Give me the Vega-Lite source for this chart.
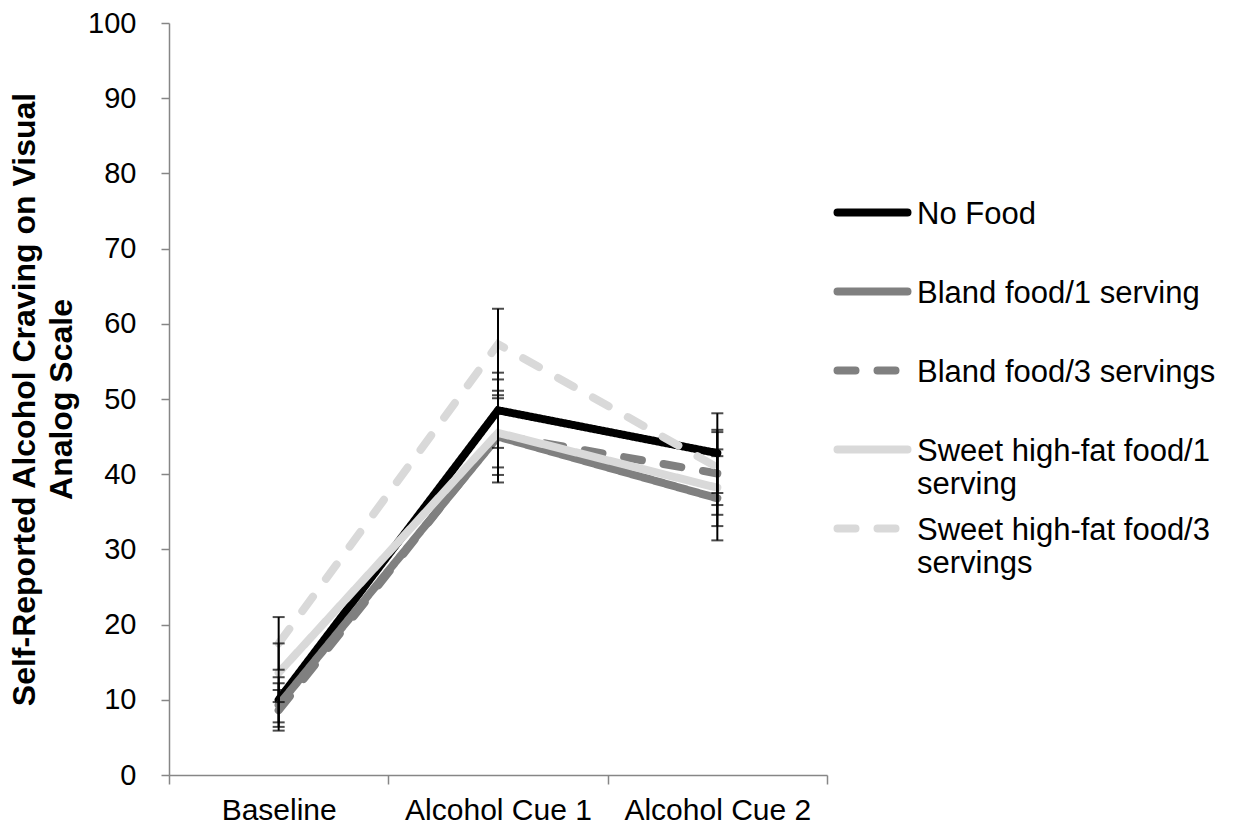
{
  "$schema": "https://vega.github.io/schema/vega-lite/v6.json",
  "autosize": {"type": "none"},
  "padding": {"left": 169, "top": 23, "right": 410, "bottom": 56},
  "width": 658,
  "height": 752,
  "background": "white",
  "config": {
    "view": {"stroke": null},
    "font": "Liberation Sans",
    "axis": {
      "grid": false,
      "domainColor": "#868686",
      "domainWidth": 1.5,
      "tickColor": "#868686",
      "tickWidth": 1.5,
      "labelColor": "#000000",
      "labelFont": "Liberation Sans",
      "labelFontSize": 29,
      "labelLimit": 0,
      "titleColor": "#000000",
      "titleFont": "Liberation Sans"
    }
  },
  "data": {
    "values": [
      {"series": "No Food", "time": "Baseline", "mean": 10.0, "lo": 7.0, "hi": 13.0},
      {"series": "No Food", "time": "Alcohol Cue 1", "mean": 48.5, "lo": 43.5, "hi": 53.5},
      {"series": "No Food", "time": "Alcohol Cue 2", "mean": 42.8, "lo": 37.5, "hi": 48.1},
      {"series": "Bland food/1 serving", "time": "Baseline", "mean": 9.3, "lo": 6.4, "hi": 12.2},
      {"series": "Bland food/1 serving", "time": "Alcohol Cue 1", "mean": 45.0, "lo": 38.9, "hi": 51.1},
      {"series": "Bland food/1 serving", "time": "Alcohol Cue 2", "mean": 36.8, "lo": 31.2, "hi": 42.4},
      {"series": "Bland food/3 servings", "time": "Baseline", "mean": 8.6, "lo": 5.9, "hi": 11.3},
      {"series": "Bland food/3 servings", "time": "Alcohol Cue 1", "mean": 45.2, "lo": 39.9, "hi": 50.5},
      {"series": "Bland food/3 servings", "time": "Alcohol Cue 2", "mean": 40.1, "lo": 34.6, "hi": 45.6},
      {"series": "Sweet high-fat food/1 serving", "time": "Baseline", "mean": 13.6, "lo": 9.7, "hi": 17.5},
      {"series": "Sweet high-fat food/1 serving", "time": "Alcohol Cue 1", "mean": 45.5, "lo": 40.9, "hi": 50.1},
      {"series": "Sweet high-fat food/1 serving", "time": "Alcohol Cue 2", "mean": 38.2, "lo": 33.1, "hi": 43.3},
      {"series": "Sweet high-fat food/3 servings", "time": "Baseline", "mean": 17.5, "lo": 14.0, "hi": 21.0},
      {"series": "Sweet high-fat food/3 servings", "time": "Alcohol Cue 1", "mean": 57.3, "lo": 52.6, "hi": 62.0},
      {"series": "Sweet high-fat food/3 servings", "time": "Alcohol Cue 2", "mean": 40.9, "lo": 35.9, "hi": 45.9}
    ]
  },
  "encoding": {
    "x": {
      "field": "time",
      "type": "nominal",
      "sort": ["Baseline", "Alcohol Cue 1", "Alcohol Cue 2"],
      "scale": {"type": "band", "paddingInner": 0, "paddingOuter": 0},
      "axis": {
        "title": null,
        "labelAngle": 0,
        "labelFontSize": 30,
        "tickBand": "extent",
        "tickSize": 9,
        "labelPadding": 11
      }
    }
  },
  "layer": [
    {
      "mark": {"type": "line", "strokeWidth": 8, "strokeCap": "round"},
      "encoding": {
        "y": {
          "field": "mean",
          "type": "quantitative",
          "scale": {"domain": [0, 100], "nice": false},
          "axis": {
            "values": [0, 10, 20, 30, 40, 50, 60, 70, 80, 90, 100],
            "tickSize": 8,
            "labelPadding": 25,
            "title": ["Self-Reported Alcohol Craving on Visual", "Analog Scale"],
            "titleFontSize": 32,
            "titleFontWeight": "bold",
            "titleLineHeight": 37,
            "titleAngle": -90,
            "titleAlign": "center",
            "titleBaseline": "middle",
            "titleX": -145,
            "titleY": 376
          }
        },
        "color": {
          "field": "series",
          "type": "nominal",
          "sort": ["No Food", "Bland food/1 serving", "Bland food/3 servings", "Sweet high-fat food/1 serving", "Sweet high-fat food/3 servings"],
          "scale": {
            "domain": ["No Food", "Bland food/1 serving", "Bland food/3 servings", "Sweet high-fat food/1 serving", "Sweet high-fat food/3 servings"],
            "range": ["#000000", "#808080", "#808080", "#d9d9d9", "#d9d9d9"]
          },
          "legend": {
            "title": null,
            "orient": "none",
            "legendX": 682,
            "legendY": 168,
            "padding": 0,
            "symbolType": "M-2,0L2,0",
            "symbolSize": 1225,
            "symbolStrokeWidth": 8,
            "labelFont": "Liberation Sans",
            "labelFontSize": 31,
            "labelColor": "#000000",
            "labelOffset": 23,
            "labelBaseline": "alphabetic",
            "labelLimit": 400,
            "gridAlign": "all",
            "rowPadding": 7,
            "labelExpr": "datum.label == 'Sweet high-fat food/1 serving' ? ['Sweet high-fat food/1', 'serving'] : datum.label == 'Sweet high-fat food/3 servings' ? ['Sweet high-fat food/3', 'servings'] : datum.label",
            "encode": {
              "symbols": {"update": {"strokeCap": {"value": "round"}}},
              "labels": {"update": {"dy": {"value": 11}, "lineHeight": {"value": 33}}}
            }
          }
        },
        "strokeDash": {
          "field": "series",
          "type": "nominal",
          "sort": ["No Food", "Bland food/1 serving", "Bland food/3 servings", "Sweet high-fat food/1 serving", "Sweet high-fat food/3 servings"],
          "scale": {
            "domain": ["No Food", "Bland food/1 serving", "Bland food/3 servings", "Sweet high-fat food/1 serving", "Sweet high-fat food/3 servings"],
            "range": [[1, 0], [1, 0], [18, 22], [1, 0], [18, 22]]
          }
        }
      }
    },
    {
      "mark": {"type": "rule", "color": "#000000", "strokeWidth": 2},
      "encoding": {
        "y": {"field": "lo", "type": "quantitative"},
        "y2": {"field": "hi"}
      }
    },
    {
      "mark": {"type": "tick", "color": "#000000", "thickness": 2, "size": 12, "orient": "horizontal"},
      "encoding": {"y": {"field": "lo", "type": "quantitative"}}
    },
    {
      "mark": {"type": "tick", "color": "#000000", "thickness": 2, "size": 12, "orient": "horizontal"},
      "encoding": {"y": {"field": "hi", "type": "quantitative"}}
    }
  ]
}
